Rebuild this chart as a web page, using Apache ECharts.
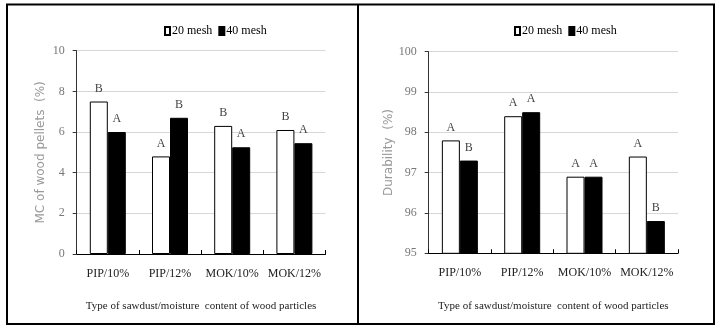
<!DOCTYPE html>
<html>
<head>
<meta charset="utf-8">
<script src="https://cdn.jsdelivr.net/npm/echarts@6/dist/echarts.min.js"></script>
<style>
html,body{margin:0;padding:0;background:#fff;}
#c{width:717px;height:330px;}
</style>
</head>
<body>
<div id="c"></div>
<script>
// ---- data ----
var categories = ['PIP/10%', 'PIP/12%', 'MOK/10%', 'MOK/12%'];
var seriesNames = ['20 mesh', '40 mesh'];
var mc20 = [7.5, 4.8, 6.3, 6.1];
var mc40 = [6.0, 6.7, 5.25, 5.45];
var mcLetters20 = ['B', 'A', 'B', 'B'];
var mcLetters40 = ['A', 'B', 'A', 'A'];
var dur20 = [97.8, 98.4, 96.9, 97.4];
var dur40 = [97.3, 98.5, 96.9, 95.8];
var durLetters20 = ['A', 'A', 'A', 'A'];
var durLetters40 = ['B', 'A', 'A', 'B'];
var mcAxis = {min: 0, max: 10, interval: 2};
var durAxis = {min: 95, max: 100, interval: 1};
var xAxisTitle = 'Type of sawdust/moisture  content of wood particles';
var mcTitle = 'MC of wood pellets  (%)';
var durTitle = 'Durability  (%)';

var SERIF = '"Liberation Serif", "Times New Roman", serif';
var SANS = '"DejaVu Sans", Verdana, sans-serif';

function xAxisDef(gi) {
  return {
    type: 'category', gridIndex: gi, data: categories,
    axisLine: {lineStyle: {color: '#000', width: 1}},
    axisTick: {show: true, inside: true, length: 4, lineStyle: {color: '#000'}},
    axisLabel: {color: '#222', fontFamily: SERIF, fontSize: 12, margin: 14, interval: 0},
    name: xAxisTitle, nameLocation: 'middle', nameGap: 47,
    nameTextStyle: {color: '#222', fontFamily: SERIF, fontSize: 11}
  };
}
function yAxisDef(gi, ax, title, gap) {
  return {
    type: 'value', gridIndex: gi, min: ax.min, max: ax.max, interval: ax.interval,
    axisLine: {show: true, lineStyle: {color: '#333', width: 1}},
    axisTick: {show: true, length: 4, lineStyle: {color: '#333'}},
    axisLabel: {color: '#777', fontFamily: SERIF, fontSize: 12, margin: 12},
    splitLine: {show: true, lineStyle: {color: '#d8d8d8', width: 1}},
    name: title, nameLocation: 'middle', nameGap: gap, nameRotate: 90,
    nameTextStyle: {color: '#999', fontFamily: SANS, fontSize: 12}
  };
}
function barSeries(name, gi, values, letters, fill) {
  return {
    name: name, type: 'bar', xAxisIndex: gi, yAxisIndex: gi,
    data: values, barWidth: 18, barGap: '0%',
    itemStyle: {color: fill, borderColor: '#000', borderWidth: 1},
    label: {
      show: true, position: 'top', distance: 7,
      formatter: function (p) { return letters[p.dataIndex]; },
      color: '#444', fontFamily: SERIF, fontSize: 12
    },
    emphasis: {disabled: true}
  };
}
function legendDef(left) {
  return {
    left: left, top: 20, itemWidth: 5, itemHeight: 8, itemGap: 6,
    icon: 'rect', data: seriesNames.map(function (n) { return {name: n}; }),
    textStyle: {color: '#000', fontFamily: SERIF, fontSize: 12, padding: [0, 0, 0, -3]},
    selectedMode: false
  };
}

var chart = echarts.init(document.getElementById('c'), null, {renderer: 'canvas'});
chart.setOption({
  animation: false,
  backgroundColor: '#fff',
  grid: [
    {left: 76.7, top: 50.7, width: 248.8, height: 203.3},
    {left: 428.7, top: 51.7, width: 249.3, height: 201.6}
  ],
  legend: [
    Object.assign(legendDef(159), {id: 'l0'}),
    Object.assign(legendDef(509), {id: 'l1'})
  ],
  xAxis: [xAxisDef(0), xAxisDef(1)],
  yAxis: [yAxisDef(0, mcAxis, mcTitle, 30), yAxisDef(1, durAxis, durTitle, 31)],
  series: [
    barSeries(seriesNames[0], 0, mc20, mcLetters20, '#fff'),
    barSeries(seriesNames[1], 0, mc40, mcLetters40, '#000'),
    barSeries(seriesNames[0], 1, dur20, durLetters20, '#fff'),
    barSeries(seriesNames[1], 1, dur40, durLetters40, '#000')
  ],
  graphic: [
    {type: 'rect', shape: {x: 7, y: 4.5, width: 707, height: 319.5},
     style: {fill: null, stroke: '#000', lineWidth: 2}, silent: true},
    {type: 'line', shape: {x1: 358, y1: 4.5, x2: 358, y2: 324},
     style: {stroke: '#000', lineWidth: 2}, silent: true}
  ]
});
</script>
</body>
</html>
